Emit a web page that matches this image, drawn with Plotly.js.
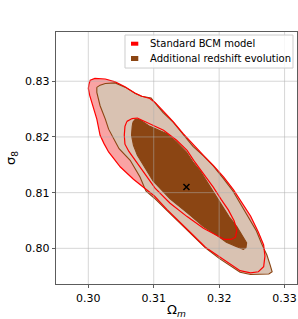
<!DOCTYPE html>
<html>
<head>
<meta charset="utf-8">
<script src="https://cdn.plot.ly/plotly-3.0.1.min.js"></script>
<style>html,body{margin:0;padding:0;background:#fff;}#chart{width:298px;height:319px;}</style>
</head>
<body>
<div id="chart"></div>
<script>
// Standard BCM model – 2 sigma contour (Omega_m, sigma_8)
var bcmOuterOm = [0.3001,0.3003,0.3010,0.3026,0.3041,0.3056,0.3071,0.3082,0.3094,0.3102,0.3115,0.3130,0.3145,0.3161,0.3176,0.3191,0.3207,0.3222,0.3235,0.3248,0.3260,0.3268,0.3270,0.3268,0.3260,0.3248,0.3232,0.3217,0.3200,0.3179,0.3160,0.3140,0.3120,0.3101,0.3089,0.3069,0.3049,0.3031,0.3024,0.3018,0.3013,0.3008,0.3002,0.3000];
var bcmOuterS8 = [0.8295,0.8302,0.8305,0.8304,0.8299,0.8290,0.8279,0.8273,0.8269,0.8262,0.8246,0.8227,0.8206,0.8185,0.8167,0.8149,0.8128,0.8105,0.8081,0.8058,0.8029,0.8006,0.7986,0.7967,0.7958,0.7956,0.7960,0.7972,0.7984,0.8002,0.8024,0.8047,0.8070,0.8094,0.8105,0.8124,0.8146,0.8173,0.8188,0.8203,0.8232,0.8250,0.8275,0.8287];
// Standard BCM model – 1 sigma contour
var bcmInnerOm = [0.3059,0.3067,0.3075,0.3082,0.3094,0.3115,0.3135,0.3151,0.3161,0.3176,0.3191,0.3203,0.3214,0.3223,0.3227,0.3225,0.3218,0.3208,0.3197,0.3176,0.3151,0.3125,0.3102,0.3087,0.3073,0.3062,0.3056,0.3055,0.3056];
var bcmInnerS8 = [0.8228,0.8233,0.8234,0.8230,0.8224,0.8212,0.8194,0.8176,0.8158,0.8134,0.8110,0.8088,0.8069,0.8049,0.8033,0.8020,0.8016,0.8016,0.8023,0.8036,0.8057,0.8081,0.8108,0.8133,0.8158,0.8174,0.8187,0.8203,0.8219];
// Additional redshift evolution – 2 sigma contour
var zOuterOm = [0.3013,0.3018,0.3026,0.3041,0.3057,0.3072,0.3081,0.3088,0.3096,0.3102,0.3114,0.3130,0.3145,0.3160,0.3176,0.3191,0.3206,0.3221,0.3233,0.3245,0.3257,0.3265,0.3273,0.3278,0.3281,0.3276,0.3260,0.3248,0.3232,0.3217,0.3200,0.3179,0.3160,0.3140,0.3120,0.3101,0.3088,0.3079,0.3064,0.3047,0.3039,0.3031,0.3026,0.3018,0.3013];
var zOuterS8 = [0.8289,0.8293,0.8296,0.8297,0.8289,0.8278,0.8273,0.8272,0.8270,0.8261,0.8244,0.8226,0.8205,0.8183,0.8166,0.8148,0.8126,0.8103,0.8079,0.8056,0.8031,0.8008,0.7988,0.7970,0.7958,0.7954,0.7953,0.7953,0.7957,0.7968,0.7982,0.8001,0.8022,0.8045,0.8068,0.8090,0.8103,0.8128,0.8158,0.8179,0.8197,0.8214,0.8232,0.8256,0.8280];
// Additional redshift evolution – 1 sigma contour
var zInnerOm = [0.3068,0.3072,0.3079,0.3094,0.3120,0.3134,0.3150,0.3160,0.3171,0.3183,0.3194,0.3203,0.3215,0.3227,0.3235,0.3242,0.3241,0.3237,0.3225,0.3211,0.3197,0.3176,0.3151,0.3125,0.3099,0.3085,0.3075,0.3069,0.3066,0.3067];
var zInnerS8 = [0.8226,0.8232,0.8231,0.8219,0.8206,0.8192,0.8173,0.8155,0.8139,0.8116,0.8096,0.8078,0.8057,0.8039,0.8024,0.8010,0.8001,0.7998,0.8004,0.8011,0.8023,0.8039,0.8064,0.8089,0.8121,0.8148,0.8167,0.8185,0.8203,0.8218];
// fiducial point
var fidOm = [0.315];
var fidS8 = [0.811];
// ticks
var xTicks = [0.30,0.31,0.32,0.33];
var xTickText = ['0.30','0.31','0.32','0.33'];
var yTicks = [0.80,0.81,0.82,0.83];
var yTickText = ['0.80','0.81','0.82','0.83'];
var seriesNames = ['Standard BCM model','Additional redshift evolution'];

function closed(a){ return a.concat([a[0]]); }
function fillTrace(x,y,color){
  return {x:closed(x), y:closed(y), mode:'lines', fill:'toself', fillcolor:color,
          line:{width:0, color:color}, hoverinfo:'skip', showlegend:false};
}
function lineTrace(x,y,color,w){
  return {x:closed(x), y:closed(y), mode:'lines', line:{width:w, color:color},
          hoverinfo:'skip', showlegend:false};
}
var RED = '#ff0000', BROWN = '#8b4513';
var data = [
  fillTrace(bcmOuterOm,bcmOuterS8,'#f9a3a3'),
  fillTrace(zOuterOm,zOuterS8,'#d9c2b2'),
  fillTrace(zInnerOm,zInnerS8,BROWN),
  lineTrace(zOuterOm,zOuterS8,BROWN,1.1),
  lineTrace(zInnerOm,zInnerS8,BROWN,1.1),
  lineTrace(bcmOuterOm,bcmOuterS8,RED,1.2),
  lineTrace(bcmInnerOm,bcmInnerS8,RED,1.2),
  {x:fidOm, y:fidS8, mode:'markers', marker:{symbol:'x-thin', size:6, color:'#000', line:{width:1.5,color:'#000'}}, hoverinfo:'skip', showlegend:false}
];

var gridColor = 'rgba(176,176,176,0.5)';
var shapes = [];
xTicks.forEach(function(v){ shapes.push({type:'line', xref:'x', yref:'paper', x0:v, x1:v, y0:0, y1:1, line:{color:gridColor,width:1}, layer:'above'}); });
yTicks.forEach(function(v){ shapes.push({type:'line', xref:'paper', yref:'y', x0:0, x1:1, y0:v, y1:v, line:{color:gridColor,width:1}, layer:'above'}); });
// legend frame and patches
shapes.push({type:'rect', xref:'paper', yref:'paper', x0:0.2863, x1:0.9834, y0:0.857, y1:0.988, line:{color:'#cccccc',width:1}, fillcolor:'rgba(255,255,255,0.8)', layer:'above'});
shapes.push({type:'rect', xref:'paper', yref:'paper', x0:0.3112, x1:0.3415, y0:0.9456, y1:0.9615, line:{width:0}, fillcolor:RED, layer:'above'});
shapes.push({type:'rect', xref:'paper', yref:'paper', x0:0.3112, x1:0.3415, y0:0.8849, y1:0.9048, line:{width:0}, fillcolor:BROWN, layer:'above'});

var annotations = [
  {xref:'paper', yref:'paper', x:0.3805, y:0.9524, xanchor:'left', yanchor:'middle', text:seriesNames[0], showarrow:false, font:{size:10, color:'#000'}},
  {xref:'paper', yref:'paper', x:0.3805, y:0.894, xanchor:'left', yanchor:'middle', text:seriesNames[1], showarrow:false, font:{size:10, color:'#000'}}
];

var layout = {
  width:298, height:319,
  margin:{l:56, r:1, t:32, b:35, pad:0},
  paper_bgcolor:'#fff', plot_bgcolor:'#fff',
  font:{family:'DejaVu Sans', color:'#000', size:11},
  showlegend:false,
  xaxis:{range:[0.29506,0.3319], tickvals:xTicks, ticktext:xTickText, ticks:'outside', ticklen:3.5, tickwidth:0.8, tickcolor:'#333',
         showline:true, mirror:true, linecolor:'#333', linewidth:0.8, showgrid:false, zeroline:false,
         tickfont:{size:11}, title:{text:'Ω<sub><i>m</i></sub>', font:{size:13}, standoff:4}},
  yaxis:{range:[0.7936,0.83884], tickvals:yTicks, ticktext:yTickText, ticks:'outside', ticklen:3.5, tickwidth:0.8, tickcolor:'#333',
         showline:true, mirror:true, linecolor:'#333', linewidth:0.8, showgrid:false, zeroline:false,
         tickfont:{size:11}, title:{text:'σ<sub>8</sub>', font:{size:13}, standoff:6}},
  shapes:shapes,
  annotations:annotations
};
Plotly.newPlot('chart', data, layout, {staticPlot:true, displayModeBar:false});
</script>
</body>
</html>
